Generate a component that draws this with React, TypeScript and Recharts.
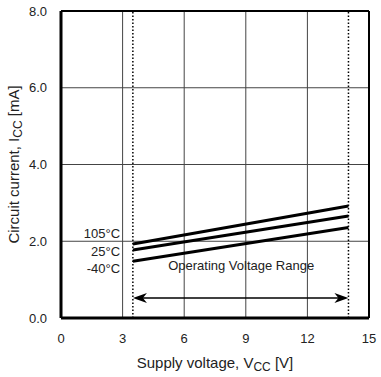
import React from "react";
import {
  LineChart,
  Line,
  XAxis,
  YAxis,
  CartesianGrid,
  ReferenceLine,
  ReferenceDot,
} from "recharts";

const voltage = [3.5, 14];
const i105 = [1.93, 2.92];
const i25 = [1.77, 2.66];
const iM40 = [1.48, 2.36];

const xTicks = [0, 3, 6, 9, 12, 15];
const yTicks = [0, 2, 4, 6, 8];

const tempLabels = [
  { text: "105°C", y: 2.2 },
  { text: "25°C", y: 1.72 },
  { text: "-40°C", y: 1.28 },
];

const data = voltage.map((v, i) => ({
  v,
  t105: i105[i],
  t25: i25[i],
  tm40: iM40[i],
}));

const FONT = "'Liberation Sans', Arial, sans-serif";
const TXT = "#222";

const leftArrow = (p: any) => (
  <path
    d={`M${p.cx - 2},${p.cy} L${p.cx + 12},${p.cy - 5} L${p.cx + 8},${p.cy} L${p.cx + 12},${p.cy + 5} Z`}
    fill="#000"
  />
);
const rightArrow = (p: any) => (
  <path
    d={`M${p.cx + 2},${p.cy} L${p.cx - 12},${p.cy - 5} L${p.cx - 8},${p.cy} L${p.cx - 12},${p.cy + 5} Z`}
    fill="#000"
  />
);

export default function App() {
  return (
    <div style={{ position: "absolute", left: 0, top: 0, fontFamily: FONT }}>
      <LineChart
        width={381}
        height={377}
        data={data}
        margin={{ top: 11, right: 12, left: 0, bottom: 0 }}
      >
        <CartesianGrid stroke="#444" strokeWidth={1} />
        <XAxis
          type="number"
          dataKey="v"
          domain={[0, 15]}
          ticks={xTicks}
          tickLine={false}
          axisLine={{ stroke: "#000", strokeWidth: 3 }}
          height={59}
          tick={{ fill: TXT, fontSize: 13, fontFamily: FONT, dy: 8 }}
          label={(props: any) => {
            const vb = props.viewBox;
            const cx = vb.x + vb.width / 2;
            return (
              <text x={cx} y={368} textAnchor="middle" fill={TXT} fontSize={15} fontFamily={FONT}>
                Supply voltage, V
                <tspan fontSize={12} dy={3}>CC</tspan>
                <tspan dy={-3}> [V]</tspan>
              </text>
            );
          }}
        />
        <YAxis
          type="number"
          domain={[0, 8]}
          ticks={yTicks}
          tickFormatter={(v: number) => v.toFixed(1)}
          tickLine={false}
          axisLine={{ stroke: "#000", strokeWidth: 3 }}
          width={61}
          tick={{ fill: TXT, fontSize: 13, fontFamily: FONT, dx: -6 }}
          label={(props: any) => {
            const vb = props.viewBox;
            const cy = vb.y + vb.height / 2;
            return (
              <text
                x={19}
                y={cy}
                transform={`rotate(-90 19 ${cy})`}
                textAnchor="middle"
                fill={TXT}
                fontSize={15}
                fontFamily={FONT}
              >
                Circuit current, I
                <tspan fontSize={12} dy={3}>CC</tspan>
                <tspan dy={-3}> [mA]</tspan>
              </text>
            );
          }}
        />
        <ReferenceLine y={8} stroke="#000" strokeWidth={2} />
        <ReferenceLine x={15} stroke="#000" strokeWidth={2} />
        <ReferenceLine x={3.5} stroke="#000" strokeWidth={1.5} strokeDasharray="1.5 2" />
        <ReferenceLine x={14} stroke="#000" strokeWidth={1.5} strokeDasharray="1.5 2" />
        <ReferenceLine
          segment={[
            { x: 3.65, y: 0.52 },
            { x: 13.85, y: 0.52 },
          ]}
          stroke="#000"
          strokeWidth={1.5}
        />
        <ReferenceDot x={3.6} y={0.52} r={0} shape={leftArrow} />
        <ReferenceDot x={13.9} y={0.52} r={0} shape={rightArrow} />
        {tempLabels.map((l) => (
          <ReferenceDot
            key={l.text}
            x={2.88}
            y={l.y}
            r={0}
            fill="none"
            stroke="none"
            label={(p: any) => (
              <text
                x={p.viewBox.x}
                y={p.viewBox.y + 4}
                textAnchor="end"
                fill={TXT}
                fontSize={13}
                fontFamily={FONT}
              >
                {l.text}
              </text>
            )}
          />
        ))}
        <ReferenceDot
          x={5.22}
          y={1.35}
          r={0}
          fill="none"
          stroke="none"
          label={(p: any) => (
            <text x={p.viewBox.x} y={p.viewBox.y + 4} textAnchor="start" fill={TXT} fontSize={13} fontFamily={FONT}>
              Operating Voltage Range
            </text>
          )}
        />
        <Line dataKey="t105" stroke="#000" strokeWidth={3} dot={false} isAnimationActive={false} />
        <Line dataKey="t25" stroke="#000" strokeWidth={3} dot={false} isAnimationActive={false} />
        <Line dataKey="tm40" stroke="#000" strokeWidth={3} dot={false} isAnimationActive={false} />
      </LineChart>
    </div>
  );
}
